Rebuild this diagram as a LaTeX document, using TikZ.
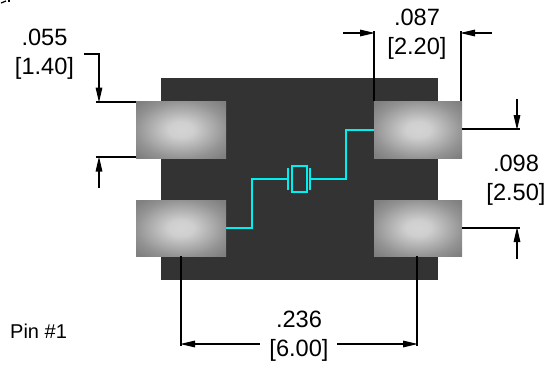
\documentclass[tikz,border=0pt]{standalone}
\usepackage{fontspec}
\setmainfont{Liberation Sans}
\usetikzlibrary{arrows.meta}
\definecolor{bodygray}{RGB}{51,51,51}
\definecolor{trace}{RGB}{0,240,240}
\definecolor{padA}{RGB}{212,212,212}
\definecolor{padB}{RGB}{207,207,207}
\definecolor{padC}{RGB}{147,147,147}
\definecolor{padD}{RGB}{128,128,128}
\pgfdeclareradialshading{padshade}{\pgfpoint{0bp}{0bp}}{
 color(0bp)=(padA);
 color(7bp)=(padB);
 color(25bp)=(padC);
 color(33bp)=(padD);
 color(50bp)=(padD)}
\tikzset{
 x=1pt,y=-1pt,
 padbox/.style={shading=padshade,draw=none},
 ext/.style={line width=1.5pt,black},
 dimarrow/.style={line width=1.5pt,black,-{Triangle[length=15pt,width=6.5pt]}},
 tr/.style={line width=1.5pt,trace},
 dimtext/.style={font=\fontsize{23.6}{29}\selectfont,align=center,inner sep=0pt},
 pintext/.style={font=\fontsize{20}{24}\selectfont,inner sep=0pt}
}
\begin{document}
\begin{tikzpicture}
\useasboundingbox (0,0) rectangle (556,373);
% package body
\fill[bodygray] (160.5,78) rectangle (438.3,280);
% traces and crystal
\coordinate (t1) at (226,228);
\coordinate (t2) at (252,228);
\coordinate (t3) at (252,179);
\coordinate (t4) at (288,179);
\coordinate (t5) at (310,179);
\coordinate (t6) at (346,179);
\coordinate (t7) at (346,130);
\coordinate (t8) at (374,130);
\draw[tr] (t1) -- (t2) -- (t3) -- (t4);
\draw[tr] (t5) -- (t6) -- (t7) -- (t8);
\draw[tr] (288,168) -- (288,190);
\draw[tr] (310,168) -- (310,190);
\draw[tr] (292,166) rectangle (307,192);
% pads
\shade[padbox] (136,101) rectangle (226,158);
\shade[padbox] (136,200) rectangle (226,256);
\shade[padbox] (374,101) rectangle (462,158);
\shade[padbox] (374,200) rectangle (462,256);
% stray clipped marks at the top edge
\draw[line width=1.2pt,black] (1,3) -- (6,1);
\draw[line width=1.2pt,black] (9,0) -- (9,2);
% left dim
\draw[ext] (84,54) -- (99,54) -- (99,85);
\draw[dimarrow] (99,70) -- (99,102.5);
\draw[ext] (95.5,102) -- (136,102);
\draw[ext] (95.5,157) -- (136,157);
\draw[dimarrow] (99,188) -- (99,156.5);
% top dim
\draw[ext] (374,31) -- (374,101);
\draw[ext] (461,31) -- (461,101);
\draw[dimarrow] (343,33) -- (375,33);
\draw[dimarrow] (492,33) -- (460,33);
% right dim
\draw[ext] (462,129) -- (520,129);
\draw[ext] (462,228) -- (520,228);
\draw[dimarrow] (517,99) -- (517,130);
\draw[dimarrow] (517,259) -- (517,227);
% bottom dim
\draw[ext] (181,256) -- (181,346);
\draw[ext] (417,256) -- (417,346);
\draw[dimarrow] (260,344) -- (180,344);
\draw[dimarrow] (337,344) -- (418,344);
% texts
\node[dimtext] (d1) at (44.5,54.5) {.055\\{}[1.40]};
\node[dimtext] (d2) at (417,34) {.087\\{}[2.20]};
\node[dimtext] (d3) at (516,180.5) {.098\\{}[2.50]};
\node[dimtext] (d4) at (299,336.5) {.236\\{}[6.00]};
\node[pintext,anchor=west] (pin) at (10,331) {Pin \#1};
\end{tikzpicture}
\end{document}
